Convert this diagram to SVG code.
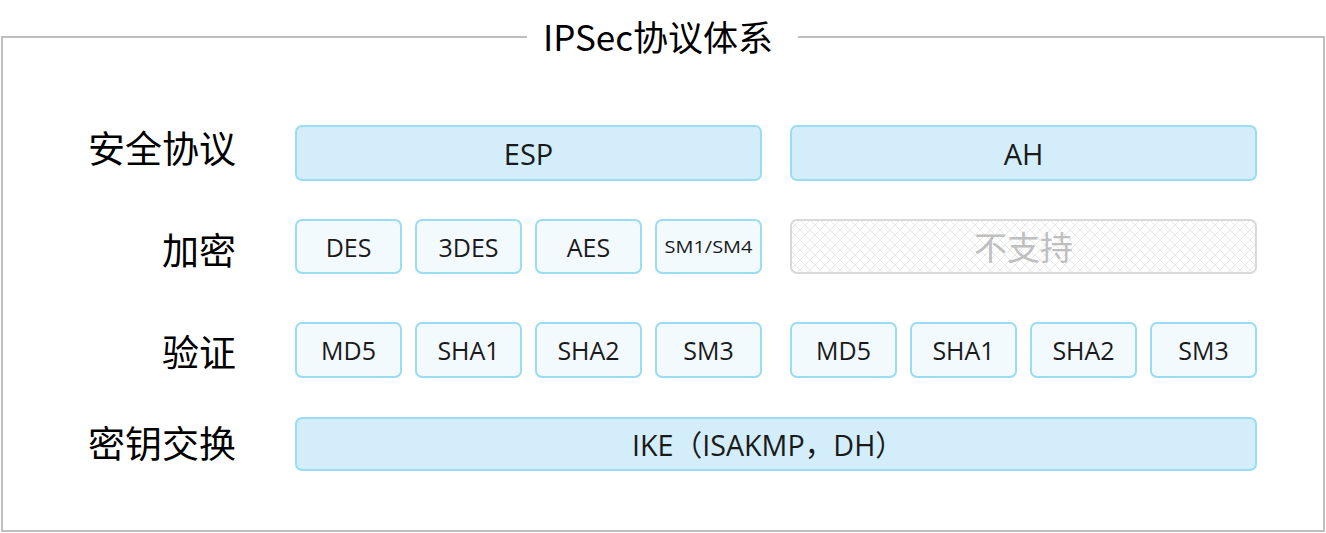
<svg xmlns="http://www.w3.org/2000/svg" width="1326" height="533" viewBox="0 0 1326 533">
<style>
.lbl{font-family:"Noto Sans CJK SC","Noto Sans",sans-serif;font-size:37px;fill:#000;text-anchor:end;dominant-baseline:central}
.big{fill:#d3eefa;stroke:#9bdcf5;stroke-width:2}
.sm{fill:#f3fafe;stroke:#9bdcf5;stroke-width:2}
.t{font-family:"Open Sans","Noto Sans CJK SC",sans-serif;font-size:25px;fill:#1a1a1a;text-anchor:middle;dominant-baseline:central}
text.tb{font-size:29px}
text.ts{font-size:17px}
</style>
<defs>
<pattern id="hatch" width="10" height="10" patternUnits="userSpaceOnUse">
<path d="M0 10L10 0M0 0L10 10" stroke="#e8e8e8" stroke-width="1"/>
</pattern>
</defs>
<g id="frame">
<path d="M527 37H2V531H1324V37H798" fill="none" stroke="#bfbfbf" stroke-width="2"/>
<text x="658" y="35" font-family="Noto Sans CJK SC,sans-serif" font-size="35" text-anchor="middle" dominant-baseline="central" fill="#000">IPSec协议体系</text>
</g>
<g id="labels">
<text class="lbl" x="236" y="147">安全协议</text>
<text class="lbl" x="236" y="249">加密</text>
<text class="lbl" x="236" y="351">验证</text>
<text class="lbl" x="236" y="442">密钥交换</text>
</g>
<g id="esp"><rect class="big" x="296" y="126" width="465" height="54" rx="6"/><text class="t tb" x="528.5" y="153">ESP</text></g>
<g id="ah"><rect class="big" x="791" y="126" width="465" height="54" rx="6"/><text class="t tb" x="1023.5" y="153">AH</text></g>
<g id="des"><rect class="sm" x="296" y="220" width="105" height="53" rx="6"/><text class="t" x="348.5" y="247">DES</text></g>
<g id="3des"><rect class="sm" x="416" y="220" width="105" height="53" rx="6"/><text class="t" x="468.5" y="247">3DES</text></g>
<g id="aes"><rect class="sm" x="536" y="220" width="105" height="53" rx="6"/><text class="t" x="588.5" y="247">AES</text></g>
<g id="sm14"><rect class="sm" x="656" y="220" width="105" height="53" rx="6"/><text class="t ts" x="708.5" y="246" textLength="88" lengthAdjust="spacingAndGlyphs">SM1/SM4</text></g>
<g id="nosupport"><rect x="791" y="220" width="465" height="53" rx="6" fill="#fff" stroke="#d9d9d9" stroke-width="2"/><rect x="792" y="221" width="463" height="51" rx="5" fill="url(#hatch)"/><text x="1023.5" y="246" font-family="Noto Sans CJK SC,sans-serif" font-size="33" text-anchor="middle" dominant-baseline="central" fill="#bfbfbf">不支持</text></g>
<g id="md5a"><rect class="sm" x="296" y="323" width="105" height="54" rx="6"/><text class="t" x="348.5" y="350">MD5</text></g>
<g id="sha1a"><rect class="sm" x="416" y="323" width="105" height="54" rx="6"/><text class="t" x="468.5" y="350">SHA1</text></g>
<g id="sha2a"><rect class="sm" x="536" y="323" width="105" height="54" rx="6"/><text class="t" x="588.5" y="350">SHA2</text></g>
<g id="sm3a"><rect class="sm" x="656" y="323" width="105" height="54" rx="6"/><text class="t" x="708.5" y="350">SM3</text></g>
<g id="md5b"><rect class="sm" x="791" y="323" width="105" height="54" rx="6"/><text class="t" x="843.5" y="350">MD5</text></g>
<g id="sha1b"><rect class="sm" x="911" y="323" width="105" height="54" rx="6"/><text class="t" x="963.5" y="350">SHA1</text></g>
<g id="sha2b"><rect class="sm" x="1031" y="323" width="105" height="54" rx="6"/><text class="t" x="1083.5" y="350">SHA2</text></g>
<g id="sm3b"><rect class="sm" x="1151" y="323" width="105" height="54" rx="6"/><text class="t" x="1203.5" y="350">SM3</text></g>
<g id="ike"><rect class="big" x="296" y="418" width="960" height="52" rx="6"/><text class="t tb" x="768" y="444" textLength="272" lengthAdjust="spacingAndGlyphs">IKE（ISAKMP，DH）</text></g>
<g id="connectors"></g>
</svg>
